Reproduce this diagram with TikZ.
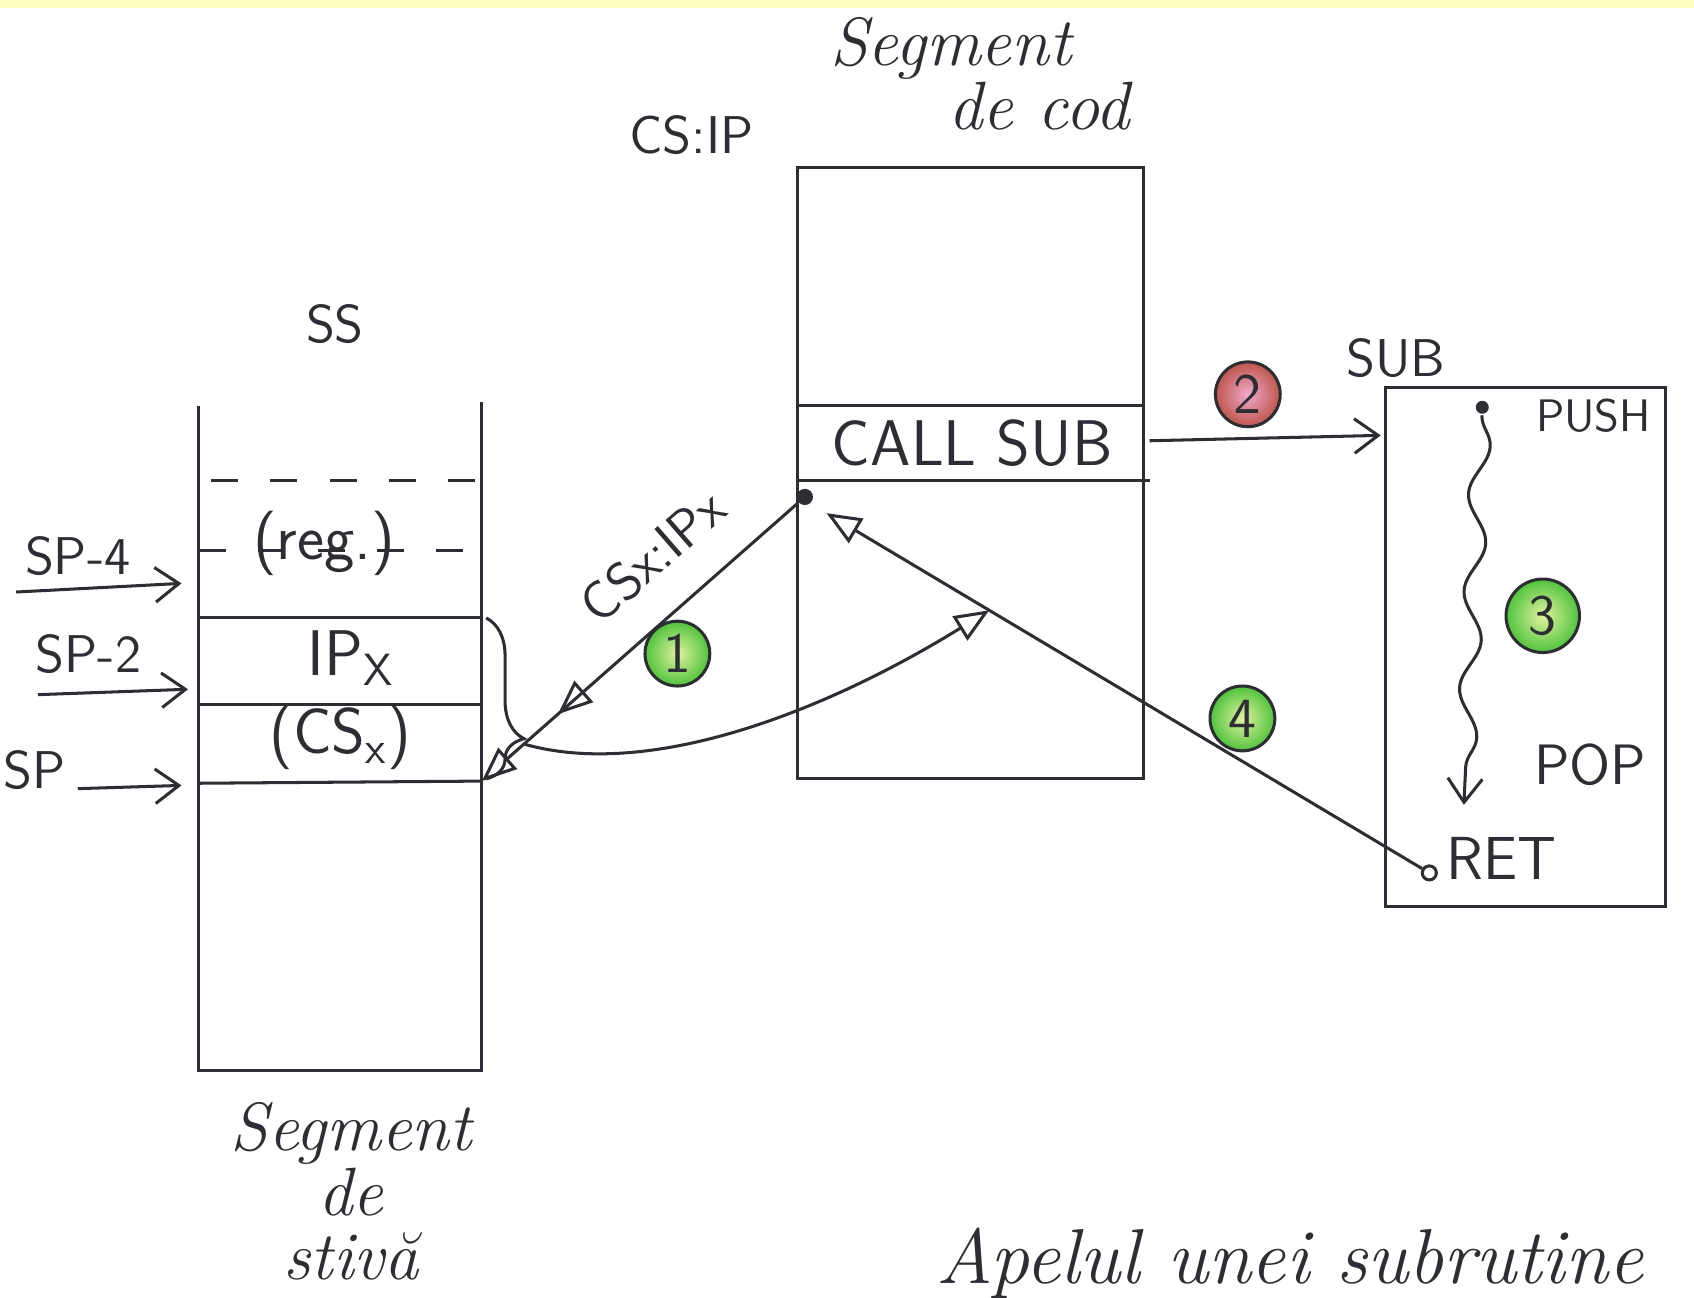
\documentclass[tikz,border=0pt]{standalone}
\usepackage{tikz}
\usetikzlibrary{arrows.meta,calc,decorations.markings,decorations.pathmorphing,decorations.pathreplacing}
\definecolor{pen}{RGB}{45,45,52}
\definecolor{markgreen}{RGB}{80,195,60}
\definecolor{markin}{RGB}{225,242,160}
\definecolor{markred}{RGB}{190,85,75}
\definecolor{markpink}{RGB}{240,170,205}

\begin{document}
\begin{tikzpicture}[color=pen, line width=0.8pt,
  lbl/.style={font=\sffamily\fontsize{14}{14}\selectfont, inner sep=1pt},
  biglbl/.style={font=\sffamily\fontsize{17}{17}\selectfont, inner sep=1pt},
  script/.style={font=\itshape\fontsize{18}{17}\selectfont, align=center, inner sep=1pt},
  numgreen/.style={circle, draw=pen, inner color=markin, outer color=markgreen, minimum size=0.6cm, inner sep=0pt, font=\sffamily\fontsize{15}{15}\selectfont},
  numred/.style={numgreen, inner color=markpink, outer color=markred},
  barb/.style={-{Straight Barb[length=2.2mm,width=3.2mm]}},
  opentip/.style={-{Triangle[open,length=3.2mm,width=2.6mm]}},
  midtip/.style={postaction={decorate}, decoration={markings, mark=at position #1 with {\arrow{Triangle[open,length=3.2mm,width=2.6mm]}}}},
  pdot/.style={circle, fill=pen, inner sep=0pt, minimum size=1.5mm}]
\useasboundingbox (0,0) rectangle (15.68,12.01);
\fill[yellow!25] (0,11.94) rectangle (15.68,12.01);

% stack segment
\draw (1.84,8.25) -- (1.84,2.10) -- (4.46,2.10) -- (4.46,8.29);
\draw[dash pattern=on 2.5mm off 3mm] (1.95,7.56) -- (4.40,7.56);
\draw[dash pattern=on 2.5mm off 3mm] (1.84,6.91) -- (4.46,6.91);
\draw (1.84,6.29) -- (4.46,6.29);
\draw (1.84,5.49) -- (4.46,5.49);
\draw (1.84,4.76) -- (4.46,4.78);
\node[lbl] (ss) at (3.10,9.01) {SS};
\node[biglbl] (reg) at (3.00,6.98) {(reg.)};
\node[biglbl] (ipx) at (3.25,5.92) {IP\textsubscript{X}};
\node[biglbl] (csx) at (3.15,5.18) {(CS\textsubscript{x})};
\node[script] (segstk) at (3.25,0.98) {Segment\\de\\stivă};

% stack pointers
\node[lbl] (sp4) at (0.72,6.86) {SP-4};
\node[lbl] (sp2) at (0.82,5.96) {SP-2};
\node[lbl] (sp) at (0.32,4.88) {SP};
\coordinate (sp4a) at (0.15,6.53); \coordinate (sp4b) at (1.68,6.61);
\coordinate (sp2a) at (0.35,5.58); \coordinate (sp2b) at (1.74,5.63);
\coordinate (spa) at (0.72,4.71);  \coordinate (spb) at (1.68,4.74);
\draw[barb] (sp4a) -- (sp4b);
\draw[barb] (sp2a) -- (sp2b);
\draw[barb] (spa) -- (spb);
\draw[decorate, decoration={brace, amplitude=3.5mm, aspect=0.75}] (4.50,6.29) -- (4.50,4.80);
\coordinate (bracetip) at (4.86,5.12);

% code segment
\draw (7.38,4.80) rectangle (10.58,10.46);
\draw (7.38,8.26) -- (10.58,8.26);
\draw (7.38,7.56) -- (10.64,7.56);
\node[biglbl] (call) at (9.00,7.91) {CALL SUB};
\node[lbl] (csip) at (6.40,10.76) {CS:IP};
\node[script] (seg1) at (8.80,11.56) {Segment};
\node[script] (seg2) at (9.62,11.03) {de cod};
\node[pdot] (ipdot) at (7.45,7.41) {};

% subroutine
\draw (12.82,3.62) rectangle (15.42,8.42);
\node[lbl] (sub) at (12.92,8.70) {SUB};
\node[lbl, font=\sffamily\fontsize{12}{12}\selectfont] (push) at (14.75,8.16) {PUSH};
\node[lbl, font=\sffamily\fontsize{15}{15}\selectfont] (pop) at (14.72,4.93) {POP};
\node[lbl, font=\sffamily\fontsize{16}{16}\selectfont] (ret) at (13.90,4.06) {RET};
\node[circle, draw=pen, fill=white, inner sep=0pt, minimum size=1.3mm] (retdot) at (13.23,3.93) {};
\node[pdot, minimum size=1.2mm] (wavetop) at (13.72,8.24) {};
\coordinate (waveend) at (13.55,4.56);
\draw[barb, decorate, decoration={snake, amplitude=0.9mm, segment length=9mm, post length=3mm}] (wavetop) -- (waveend);

% connectors
\coordinate (callout) at (10.64,7.93);
\coordinate (subin) at (12.78,7.98);
\draw[barb] (callout) -- (subin);
\coordinate (stk) at (4.46,4.78);
\draw[opentip, midtip=0.76] (ipdot) -- (stk);
\node[lbl, rotate=41] (csipx) at (6.04,6.86) {CSx:IPx};
\coordinate (retend) at (7.65,7.26);
\draw[opentip] (retdot) -- (retend);
\coordinate (hit) at ($(retdot)!0.73!(retend)$);
\draw[opentip] (bracetip) .. controls (6.0,4.80) and (7.6,5.40) .. (hit);

% steps
\node[numgreen] (n1) at (6.27,5.96) {1};
\node[numred] (n2) at (11.55,8.36) {2};
\node[numgreen, minimum size=0.68cm] (n3) at (14.28,6.31) {3};
\node[numgreen] (n4) at (11.50,5.36) {4};

\node[script, font=\itshape\fontsize{20.5}{21}\selectfont, anchor=west] (title) at (8.62,0.32) {Apelul unei subrutine};
\end{tikzpicture}
\end{document}
